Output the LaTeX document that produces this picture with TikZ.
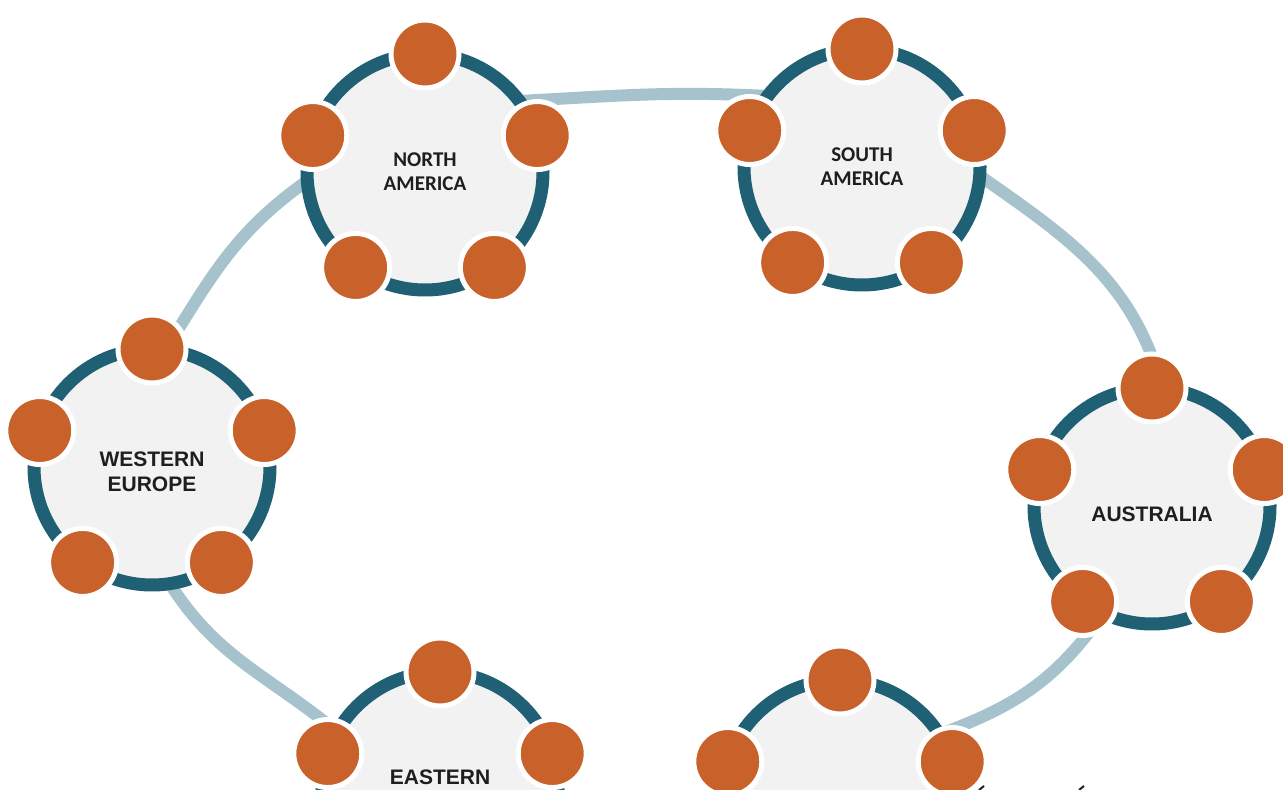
\documentclass[tikz,border=0pt]{standalone}
\usepackage{fontspec}
\newfontfamily\carlito{Carlito}
\newfontfamily\arialsans{Liberation Sans}
\usetikzlibrary{calc,backgrounds}

\definecolor{satorange}{RGB}{200,98,42}
\definecolor{ringteal}{RGB}{31,96,117}
\definecolor{linkblue}{RGB}{166,195,205}
\definecolor{ringfill}{RGB}{242,242,243}
\definecolor{labelgray}{RGB}{30,30,30}

\begin{document}
\begin{tikzpicture}[
  x=1pt, y=1pt,
  ring/.style={circle, draw=ringteal, line width=13pt, fill=ringfill, minimum size=236pt, inner sep=0pt},
  sat/.style={circle, fill=satorange, draw=white, line width=5pt, minimum size=68pt, inner sep=0pt},
  link/.style={draw=linkblue, line width=12pt, shorten <=-10pt, shorten >=-10pt},
  calname/.style={align=center, text=labelgray, font=\carlito\bfseries\fontsize{21}{24}\selectfont},
  arialname/.style={align=center, text=labelgray, font=\arialsans\bfseries\fontsize{21}{25}\selectfont}
]
\useasboundingbox (0,0) rectangle (1283,790);
\clip (0,0) rectangle (1283,790);

% regions
\node[ring] (na) at (425,618) {};
\node[ring] (sa) at (862,623) {};
\node[ring] (we) at (152,323) {};
\node[ring] (au) at (1152,284) {};
\node[ring] (ee) at (440,0) {};
\node[ring] (sx) at (840,-8) {};

\foreach \c in {na,sa,we,au,ee,sx}
  \foreach \a in {18,90,162,234,306}
    \node[sat] (\c-\a) at ($(\c)+(\a:118)$) {};

% names
\node[calname] (na-text) at (na) {NORTH\\AMERICA};
\node[calname] (sa-text) at (sa) {SOUTH\\AMERICA};
\node[arialname] (we-text) at ($(we)+(0,-5)$) {WESTERN\\EUROPE};
\node[arialname] (au-text) at ($(au)+(0,-8)$) {AUSTRALIA};
\node[arialname] (ee-text) at ($(ee)+(0,13)$) {EASTERN};

\draw[line width=2pt, labelgray] (979,0) -- (984,4);
\draw[line width=2pt, labelgray] (1079,0) -- (1084,4);

\begin{pgfonlayer}{background}
\fill[white] (0,0) rectangle (1283,790);
\draw[link] (we.82) to[out=58,in=215] (na.186);
\draw[link] (na.35) to[out=3,in=177] (sa.145);
\draw[link] (sa.-6) to[out=-35,in=105] (au.86);
\draw[link] (au.245) to[out=235,in=20] (sx.32);
\draw[link] (we.-80) to[out=-58,in=140] (ee.150);
\end{pgfonlayer}
\end{tikzpicture}
\end{document}
